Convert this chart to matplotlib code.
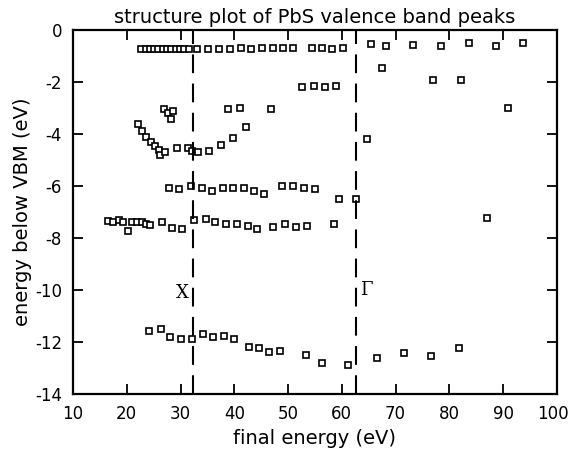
import matplotlib
matplotlib.use("Agg")
import matplotlib.pyplot as plt
import matplotlib.transforms as mtransforms

# peak positions: final energy (eV), energy below VBM (eV)
top_x = [22.7, 23.5, 24.3, 25.1, 25.9, 26.7, 27.5, 28.3, 29.1, 29.9, 30.7, 31.5,
         33.0, 35.1, 37.1, 39.2, 41.2, 43.1, 45.1, 47.2, 49.0, 50.9, 54.4, 56.3,
         58.1, 60.2, 65.4, 68.3, 73.2, 78.4, 83.6, 88.6, 93.6]
top_y = [-0.72, -0.72, -0.72, -0.72, -0.72, -0.72, -0.72, -0.72, -0.72, -0.72, -0.72, -0.72,
         -0.72, -0.72, -0.72, -0.72, -0.7, -0.72, -0.7, -0.7, -0.7, -0.7, -0.7, -0.7,
         -0.72, -0.7, -0.55, -0.6, -0.58, -0.6, -0.5, -0.6, -0.5]

mid_x = [67.4, 76.9, 82.1, 52.6, 54.8, 56.8, 58.9, 46.8, 90.9, 64.6,
         27.0, 27.7, 28.6, 28.3, 38.8, 41.0]
mid_y = [-1.46, -1.92, -1.92, -2.19, -2.15, -2.2, -2.15, -3.04, -3.0, -4.2,
         -3.04, -3.2, -3.1, -3.42, -3.02, -3.0]

curve_x = [22.1, 22.8, 23.6, 24.5, 25.2, 26.0, 26.2, 27.1, 29.3, 31.4, 32.1, 33.2,
           35.3, 37.5, 39.7, 42.2]
curve_y = [-3.6, -3.9, -4.1, -4.3, -4.45, -4.6, -4.8, -4.68, -4.55, -4.55, -4.65, -4.7,
           -4.65, -4.42, -4.17, -3.72]

six_x = [27.8, 29.7, 31.9, 34.0, 35.8, 37.9, 39.8, 41.8, 43.7, 45.5, 48.8, 50.9,
         52.9, 55.0, 59.4, 62.6]
six_y = [-6.06, -6.1, -6.0, -6.08, -6.2, -6.08, -6.08, -6.08, -6.2, -6.3, -6.0, -6.0,
         -6.06, -6.1, -6.5, -6.5]

seven_x = [16.5, 17.4, 18.6, 19.3, 20.2, 21.0, 21.9, 22.8, 23.6, 24.3, 26.5, 28.4,
           30.3, 32.5, 34.7, 36.4, 38.4, 40.5, 42.5, 44.2, 47.2, 49.4, 51.4, 53.5,
           58.5, 87.0]
seven_y = [-7.33, -7.4, -7.3, -7.4, -7.73, -7.4, -7.4, -7.4, -7.46, -7.5, -7.4, -7.6,
           -7.65, -7.3, -7.27, -7.4, -7.46, -7.46, -7.52, -7.66, -7.57, -7.47, -7.58, -7.53,
           -7.47, -7.24]

low_x = [24.1, 26.4, 28.0, 30.1, 32.1, 34.2, 36.0, 38.1, 39.9, 42.7, 44.6, 46.4,
         48.5, 53.3, 56.3, 61.1, 66.5, 71.5, 76.5, 81.7]
low_y = [-11.57, -11.5, -11.8, -11.88, -11.88, -11.7, -11.8, -11.77, -11.9, -12.19, -12.23, -12.38,
         -12.34, -12.5, -12.8, -12.9, -12.6, -12.44, -12.54, -12.23]

sym_points = [32.3, 62.6]
sym_labels = ["X", "Γ"]

x_ticks = [10, 20, 30, 40, 50, 60, 70, 80, 90, 100]
y_ticks = [0, -2, -4, -6, -8, -10, -12, -14]
y_ticklabels = ["0", "-2", "-4", "-6", "-8", "-10", "-12", "-14"]

fig = plt.figure(figsize=(5.68, 4.5), dpi=100)
ax = fig.add_axes([0.1285, 0.1244, 0.852, 0.809])

for xs, ys in [(top_x, top_y), (mid_x, mid_y), (curve_x, curve_y),
               (six_x, six_y), (seven_x, seven_y), (low_x, low_y)]:
    ax.plot(xs, ys, ls="none", marker="s", ms=4, mfc="white", mec="black", mew=1.2)

for xv in sym_points:
    ax.axvline(xv, color="black", lw=1.5, dashes=(9, 5))
ax.text(sym_points[0] - 0.7, -10.1, sym_labels[0], family="DejaVu Serif",
        fontsize=13, ha="right", va="center")
ax.text(sym_points[1] + 0.8, -10.0, sym_labels[1], family="DejaVu Serif",
        fontsize=13, ha="left", va="center")

ax.set_xlim(10, 100)
ax.set_ylim(-14, 0)
ax.set_xticks(x_ticks)
ax.set_yticks(y_ticks)
ax.set_yticklabels(y_ticklabels)
ax.tick_params(direction="in", length=7, width=1.3, top=True, right=True,
               labelsize=12, pad=8)
for s in ax.spines.values():
    s.set_linewidth(1.6)

# the last x label sits on the figure edge, nudge it inward a bit
fig.canvas.draw()
last = ax.get_xticklabels()[-1]
last.set_transform(last.get_transform() +
                   mtransforms.ScaledTranslation(-4 / 100, 0, fig.dpi_scale_trans))

ax.set_xlabel("final energy (eV)", fontsize=14, labelpad=4)
ax.set_ylabel("energy below VBM (eV)", fontsize=14, labelpad=2)
ax.set_title("structure plot of PbS valence band peaks", fontsize=14, pad=5)

fig.savefig("out.png", dpi=100)
